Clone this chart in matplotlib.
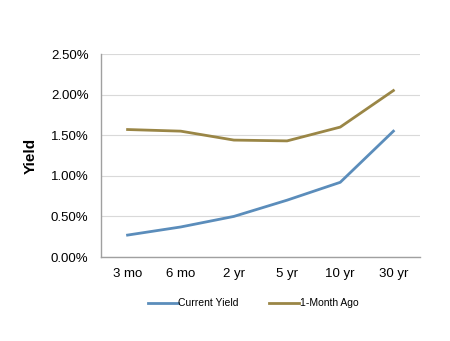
import matplotlib.pyplot as plt
from matplotlib.ticker import FuncFormatter

plt.rcParams["font.family"] = ["Liberation Sans", "DejaVu Sans"]

maturities = ["3 mo", "6 mo", "2 yr", "5 yr", "10 yr", "30 yr"]
current_yield = [0.27, 0.37, 0.50, 0.70, 0.92, 1.55]
month_ago = [1.57, 1.55, 1.44, 1.43, 1.60, 2.05]

fig = plt.figure(figsize=(4.5, 3.41), dpi=100)
ax = fig.add_axes([0.2244, 0.2463, 0.7089, 0.5953])

x = range(len(maturities))
ax.plot(x, current_yield, color="#5B8DBB", lw=2.0, label="Current Yield")
ax.plot(x, month_ago, color="#9A8646", lw=2.0, label="1-Month Ago")

ax.set_xlim(-0.5, len(maturities) - 0.5)
ax.set_ylim(0, 2.5)
ax.set_yticks([0, 0.5, 1.0, 1.5, 2.0, 2.5])
ax.yaxis.set_major_formatter(FuncFormatter(lambda v, _: f"{v:.2f}%"))
ax.set_xticks(list(x))
ax.set_xticklabels(maturities)
ax.tick_params(axis="both", length=0, labelsize=9.5, colors="black")
ax.tick_params(axis="y", pad=9)
ax.tick_params(axis="x", pad=8)

ax.grid(axis="y", color="#D9D9D9", lw=0.8)
ax.set_axisbelow(True)
for side in ["top", "right"]:
    ax.spines[side].set_visible(False)
for side in ["left", "bottom"]:
    ax.spines[side].set_color("#A0A0A0")
    ax.spines[side].set_linewidth(1.0)

ax.set_ylabel("Yield", fontsize=11, fontweight="bold", labelpad=9)

fig.legend(loc="center", bbox_to_anchor=(0.562, 0.11), ncol=2, frameon=False,
           fontsize=7.5, handlelength=2.9, handletextpad=0.05, columnspacing=2.9)

fig.savefig("out.png", dpi=100)
